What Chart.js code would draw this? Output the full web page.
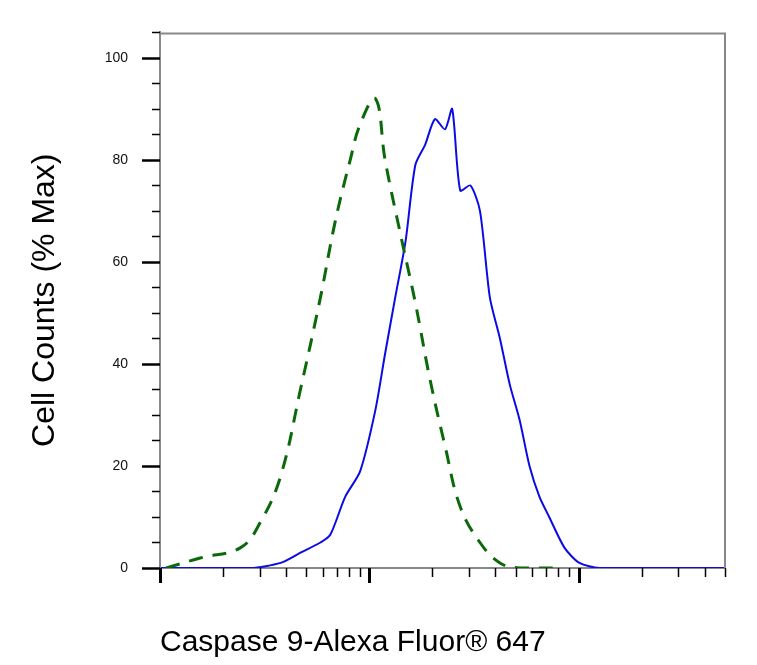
<!DOCTYPE html>
<html><head><meta charset="utf-8">
<script src="https://cdn.jsdelivr.net/npm/chart.js@4"></script>
<style>body{margin:0;background:#fff}#wrap{width:757px;height:665px}</style>
</head><body><div id="wrap"><canvas id="c"></canvas></div>
<script>
// Caspase 9 histogram (log fluorescence vs % max)
var blueX = [1.01, 2.71, 3.77, 4.69, 5.84, 6.51, 7.68, 9.05, 10.7, 11.9, 13.3, 14.9, 16.6, 18.5, 20.6, 23.0, 24.9, 27.2, 30.4, 33.8, 37.7, 42.1, 46.9, 52.3, 58.3, 65.0, 72.4, 85.6, 101, 126, 500];
var blueY = [0, 0, 1, 3, 5, 6.5, 14, 19, 31, 42, 53, 64, 79, 83, 88, 86, 90, 74, 75, 70, 53, 45, 36, 29, 20, 14, 10, 4, 1, 0, 0];
var greenX = [1.07, 1.57, 2.43, 3.02, 3.77, 4.69, 5.84, 6.88, 8.11, 9.05, 10.7, 11.9, 14.0, 16.6, 19.5, 23.0, 27.2, 33.8, 42.1, 52.3, 81];
var greenY = [0, 2, 4, 9, 18, 35, 53, 68, 80, 87, 92, 80, 66, 52, 37, 24, 12, 5, 1, 0, 0];
var yTicks = [0, 20, 40, 60, 80, 100];

function pts(xs, ys) { return xs.map(function(x, i) { return {x: x, y: ys[i]}; }); }

var tickPlugin = {
  id: 'ticks',
  afterDraw: function(chart) {
    var ctx = chart.ctx, xs = chart.scales.x, ys = chart.scales.y, a = chart.chartArea;
    ctx.save();
    ctx.strokeStyle = '#000';
    for (var d = 0; d < 3; d++) {
      for (var m = 1; m < 10; m++) {
        var v = m * Math.pow(10, d);
        if (v > 501) break;
        var px = Math.round(xs.getPixelForValue(v)) + 0.5;
        ctx.lineWidth = m === 1 ? 3 : 1.5;
        ctx.beginPath(); ctx.moveTo(px, a.bottom); ctx.lineTo(px, a.bottom + (m === 1 ? 15 : 9)); ctx.stroke();
      }
    }
    for (var t = 0; t <= 105; t += 5) {
      var py = Math.round(ys.getPixelForValue(t)) + 0.5;
      var major = t % 20 === 0;
      ctx.lineWidth = major ? 2.5 : 1.5;
      ctx.beginPath(); ctx.moveTo(a.left - (major ? 18 : 8), py); ctx.lineTo(a.left, py); ctx.stroke();
    }
    ctx.restore();
  }
};

new Chart(document.getElementById('c'), {
  type: 'line',
  data: {
    datasets: [
      { data: pts(greenX, greenY), borderColor: '#0a6a0a', borderWidth: 3, borderDash: [14, 10], pointRadius: 0, tension: 0.4, fill: false },
      { data: pts(blueX, blueY), borderColor: '#0b0be6', borderWidth: 2, pointRadius: 0, tension: 0.25, fill: false }
    ]
  },
  options: {
    responsive: true, maintainAspectRatio: false, animation: false,
    layout: { padding: { top: -29, right: 32, left: 22, bottom: 0 } },
    plugins: { legend: { display: false }, tooltip: { enabled: false } },
    scales: {
      x: {
        type: 'logarithmic', min: 1, max: 501,
        border: { color: '#888', width: 2 },
        grid: { display: false },
        ticks: { display: false },
        title: { display: true, align: 'start', text: 'Caspase 9-Alexa Fluor® 647', color: '#000', font: { family: 'Liberation Sans, Arial', size: 30 }, padding: { top: 28 } },
        afterFit: function(s) { s.height = 97; }
      },
      y: {
        min: 0, max: 105,
        border: { color: '#888', width: 2 },
        grid: { display: false },
        afterBuildTicks: function(s) { s.ticks = yTicks.map(function(v) { return {value: v}; }); },
        ticks: { color: '#111', padding: 24, font: { family: 'Liberation Sans, Arial', size: 14 } },
        title: { display: true, text: 'Cell Counts (% Max)', color: '#000', font: { family: 'Liberation Sans, Arial', size: 32 }, padding: { bottom: 10 } },
        afterFit: function(s) { s.width = 138; }
      }
    }
  },
  plugins: [tickPlugin, {
    id: 'frame',
    afterDraw: function(chart) {
      var ctx = chart.ctx, a = chart.chartArea;
      ctx.save(); ctx.strokeStyle = '#888'; ctx.lineWidth = 2;
      ctx.beginPath(); ctx.moveTo(a.left, a.top + 1); ctx.lineTo(a.right, a.top + 1); ctx.lineTo(a.right, a.bottom); ctx.stroke();
      ctx.restore();
    }
  }]
});
</script></body></html>
